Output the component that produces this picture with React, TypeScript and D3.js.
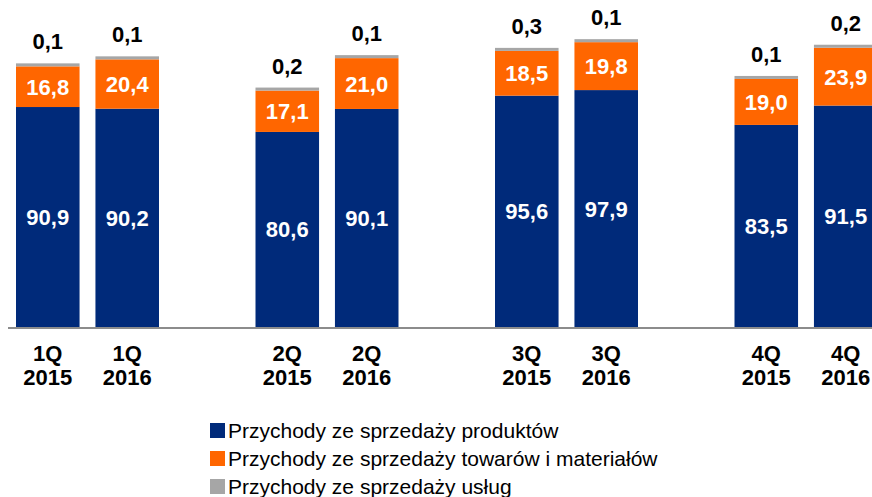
import React from "react";
import * as d3 from "d3";

const quarters = ["1Q", "2Q", "3Q", "4Q"];
const years = ["2015", "2016"];
const products = [90.9, 90.2, 80.6, 90.1, 95.6, 97.9, 83.5, 91.5];
const goods = [16.8, 20.4, 17.1, 21.0, 18.5, 19.8, 19.0, 23.9];
const services = [0.1, 0.1, 0.2, 0.1, 0.3, 0.1, 0.1, 0.2];
const seriesNames = [
  "Przychody ze sprzedaży produktów",
  "Przychody ze sprzedaży towarów i materiałów",
  "Przychody ze sprzedaży usług",
];
const colors = ["#002a7a", "#ff6600", "#a6a6a6"];

const width = 872;
const height = 497;
const baseY = 327;

const fmt = (v: number) => v.toFixed(1).replace(".", ",");

export default function App() {
  const x0 = d3.scaleBand().domain(quarters).range([-32.25, 925.75]);
  const x1 = d3
    .scaleBand()
    .domain(years)
    .range([48.25, 191.25])
    .paddingInner(0.2);
  const y = d3.scaleLinear().domain([0, 120]).range([baseY, 36.6]);

  const bars = products.map((p, i) => {
    const q = quarters[Math.floor(i / 2)];
    const yr = years[i % 2];
    return { q, yr, p, g: goods[i], s: services[i], x: (x0(q) || 0) + (x1(yr) || 0) };
  });

  const bw = x1.bandwidth();
  const font = "'Liberation Sans', Arial, sans-serif";
  const fs = 22;

  return (
    <svg
      width={width}
      height={height}
      style={{ position: "absolute", left: 0, top: 0 }}
      fontFamily={font}
    >
      {bars.map((b, i) => {
        const yP = y(b.p);
        const yG = y(b.p + b.g);
        const sh = Math.max(y(0) - y(b.s), 3);
        const yS = yG - sh;
        const cx = b.x + bw / 2;
        return (
          <g key={i}>
            <rect x={b.x} y={yP} width={bw} height={baseY - yP} fill={colors[0]} />
            <rect x={b.x} y={yG} width={bw} height={yP - yG} fill={colors[1]} />
            <rect x={b.x} y={yS} width={bw} height={sh} fill={colors[2]} />
            <text x={cx} y={(yP + baseY) / 2 + 8} textAnchor="middle" fill="#fff" fontWeight="bold" fontSize={fs}>
              {fmt(b.p)}
            </text>
            <text x={cx} y={(yG + yP) / 2 + 8} textAnchor="middle" fill="#fff" fontWeight="bold" fontSize={fs}>
              {fmt(b.g)}
            </text>
            <text x={cx} y={yS - 14} textAnchor="middle" fill="#000" fontWeight="bold" fontSize={fs}>
              {fmt(b.s)}
            </text>
            <text x={cx} y={361} textAnchor="middle" fill="#000" fontWeight="bold" fontSize={fs}>
              {b.q}
            </text>
            <text x={cx} y={385} textAnchor="middle" fill="#000" fontWeight="bold" fontSize={fs}>
              {b.yr}
            </text>
          </g>
        );
      })}
      <line x1={8} x2={width} y1={baseY + 1} y2={baseY + 1} stroke="#8c8c8c" strokeWidth={2} />
      {seriesNames.map((n, i) => (
        <g key={n} transform={`translate(210, ${438 + i * 28})`}>
          <rect x={0} y={-15} width={15} height={15} fill={colors[i]} />
          <text x={18} y={0} fontSize={21} fill="#000">
            {n}
          </text>
        </g>
      ))}
    </svg>
  );
}
